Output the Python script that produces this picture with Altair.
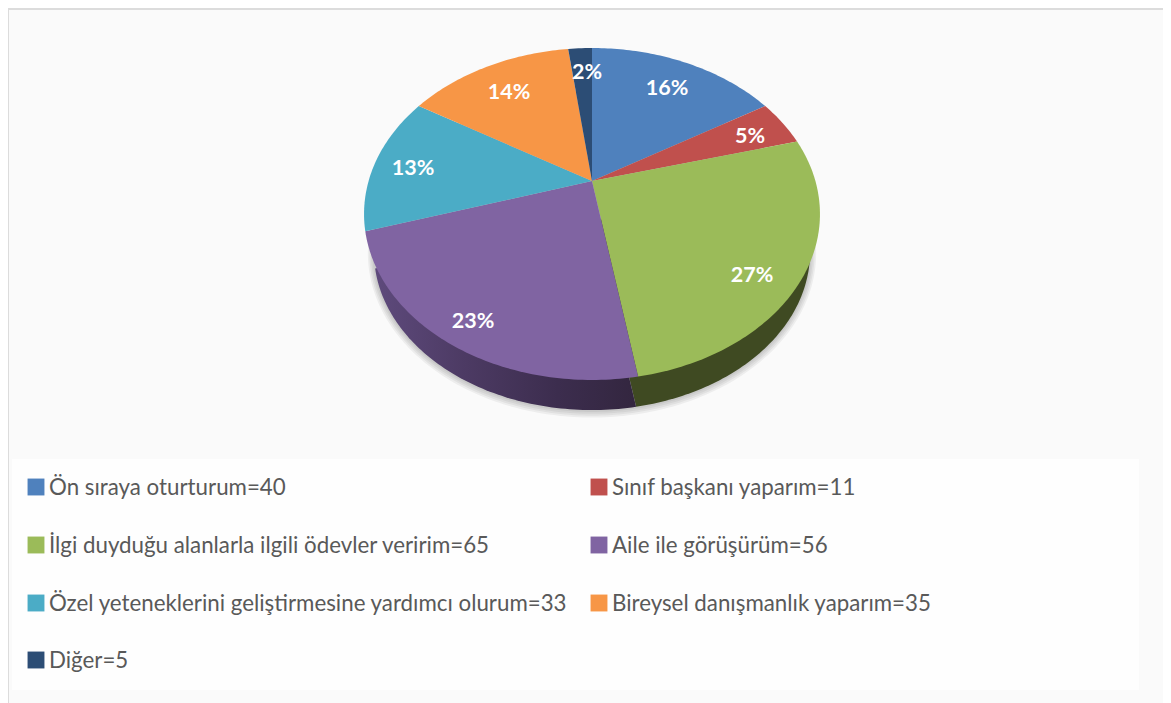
import math
import altair as alt

# ---- data ----
names = ["Ön sıraya oturturum", "Sınıf başkanı yaparım",
         "İlgi duyduğu alanlarla ilgili ödevler veririm", "Aile ile görüşürüm",
         "Özel yeteneklerini geliştirmesine yardımcı olurum",
         "Bireysel danışmanlık yaparım", "Diğer"]
values = [40, 11, 65, 56, 33, 35, 5]
percents = ["16%", "5%", "27%", "23%", "13%", "14%", "2%"]
colors = ["#4f81bd", "#c0504d", "#9bbb59", "#8064a2", "#4bacc6", "#f79646", "#2c4d75"]

# ---- layout (screen pixels of the 1171x703 window) ----
W, H = 1155, 695
label_xy = [(667, 89), (750, 137), (752, 276), (473, 322), (413, 169), (509, 93), (587, 73)]
legend_xy = [(36, 487), (599, 487), (36, 545), (599, 545), (36, 603), (599, 603), (36, 660)]
TILT = 0.1988                      # perspective of the tilted disc
TOP = dict(cx=592, cy=181, a=223.4, b=159.4)
BOTTOM = dict(cx=592, cy=220.6, a=213.7, b=151.8)


def project(theta, g, grow=0.0):
    w = 1 + TILT * math.cos(theta)
    return [g["cx"] + (g["a"] + grow) * math.sin(theta) / w,
            g["cy"] - (g["b"] + grow) * math.cos(theta) / w]


def wedge(start, end, g, props, grow=0.0):
    t0 = start / sum(values) * 2 * math.pi
    t1 = end / sum(values) * 2 * math.pi
    n = max(3, int((t1 - t0) * 60))
    ring = [[g["cx"], g["cy"]]]
    ring += [project(t0 + (t1 - t0) * i / n, g, grow) for i in range(n + 1)]
    ring.append([g["cx"], g["cy"]])
    return {"type": "Feature", "properties": props,
            "geometry": {"type": "Polygon", "coordinates": [ring]}}


edges = [sum(values[:i]) for i in range(len(values) + 1)]
xs = alt.Scale(domain=[8, 8 + W], range=[0, W])
ys = alt.Scale(domain=[8, 8 + H], range=[0, H])


def shape(features, fill, **kw):
    return alt.Chart(alt.Data(values=features)).mark_geoshape(
        fill=fill, strokeWidth=0, **kw).project(type="identity", scale=1, translate=[-8, -8])


layers = []

# frame and legend panel
panel = [{"x": 12, "x2": 1139, "y": 459, "y2": 690}]
layers.append(alt.Chart(alt.Data(values=panel)).mark_rect(color="#fefefe").encode(
    x=alt.X("x:Q", scale=xs, axis=None), x2="x2:Q",
    y=alt.Y("y:Q", scale=ys, axis=None), y2="y2:Q"))
frame = [{"x": 8, "x2": 9, "y": 8, "y2": 703}, {"x": 8, "x2": 1163, "y": 8, "y2": 10}]
layers.append(alt.Chart(alt.Data(values=frame)).mark_rect(color="#dcdcdc").encode(
    x=alt.X("x:Q", scale=xs, axis=None), x2="x2:Q",
    y=alt.Y("y:Q", scale=ys, axis=None), y2="y2:Q"))

# soft shadow under the disc
for grow in (6, 4.5, 3, 1.5):
    layers.append(shape([wedge(0, edges[-1], BOTTOM, {}, grow)], "#000000", opacity=0.05))

# side wall
purple_wall = alt.Gradient(gradient="linear", x1=0, x2=1, y1=0, y2=0, stops=[
    alt.GradientStop(offset=0, color="#5e4a7c"),
    alt.GradientStop(offset=0.35, color="#4c3a63"),
    alt.GradientStop(offset=0.7, color="#3c2d4e"),
    alt.GradientStop(offset=1, color="#33263f")])
wall_fill = {2: "#3f4a22", 3: purple_wall}
for i, fill in wall_fill.items():
    layers.append(shape([wedge(edges[i], edges[i + 1], BOTTOM, {})], fill))

# top face
for i, name in enumerate(names):
    layers.append(shape([wedge(edges[i], edges[i + 1], TOP, {"name": name})], colors[i]))

# percent labels
label_rows = [{"t": p, "x": xy[0], "y": xy[1]} for p, xy in zip(percents, label_xy)]
layers.append(alt.Chart(alt.Data(values=label_rows)).mark_text(
    font="Lato", fontSize=21.5, fontWeight="bold", color="#ffffff", align="center", baseline="middle"
).encode(x=alt.X("x:Q", scale=xs, axis=None), y=alt.Y("y:Q", scale=ys, axis=None), text="t:N"))

# legend
legend_rows = [{"t": f"{n}={v}", "c": c, "x": xy[0], "y": xy[1], "ty": xy[1] + 1, "tx": xy[0] + 13}
               for n, v, c, xy in zip(names, values, colors, legend_xy)]
layers.append(alt.Chart(alt.Data(values=legend_rows)).mark_square(size=285, opacity=1).encode(
    x=alt.X("x:Q", scale=xs, axis=None), y=alt.Y("y:Q", scale=ys, axis=None),
    color=alt.Color("c:N", scale=None, legend=None)))
layers.append(alt.Chart(alt.Data(values=legend_rows)).mark_text(
    font="Lato", fontSize=22.3, color="#595959", align="left", baseline="middle"
).encode(x=alt.X("tx:Q", scale=xs, axis=None), y=alt.Y("ty:Q", scale=ys, axis=None), text="t:N"))

chart = alt.layer(*layers).properties(
    width=W, height=H, padding=0, background="#fafafa"
).configure_view(stroke=None)

chart.save("out.html", embed_options={"renderer": "svg", "actions": False})
